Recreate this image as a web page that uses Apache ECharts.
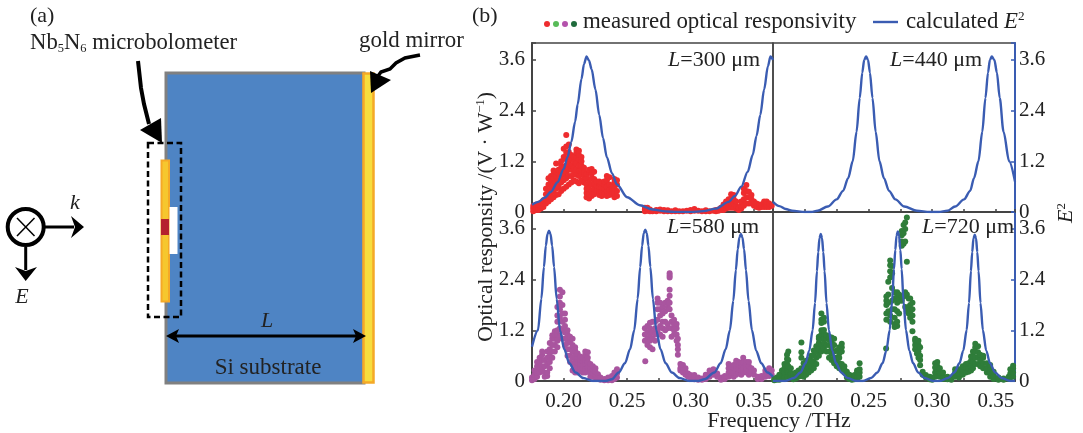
<!DOCTYPE html>
<html><head><meta charset="utf-8">
<script src="https://cdn.jsdelivr.net/npm/echarts@6/dist/echarts.min.js"></script>
<style>html,body{margin:0;padding:0;background:#fff}#c{width:1083px;height:433px}</style></head>
<body><div id="c"></div>
<script>
// Frequency tick labels and response tick labels
const xTickLabels = ['0.20','0.25','0.30','0.35'];
const yTickLabels = ['0.0','1.2','2.4','3.6'];
const panelLabels = ['300','440','580','720'];

// calculated E^2 curves [frequency, value]
const curve300 = [[.175,.17],[.18,.24],[.185,.34],[.19,.48],[.195,.7],[.2,1.02],[.203,1.3],[.206,1.66],[.209,2.14],[.211,2.55],[.214,3.15],[.216,3.5],[.218,3.68],[.22,3.58],[.222,3.38],[.225,2.9],[.228,2.3],[.231,1.75],[.234,1.3],[.238,.92],[.242,.65],[.25,.35],[.26,.16],[.27,.06],[.28,.015],[.29,0],[.3,0],[.31,.02],[.32,.08],[.33,.24],[.335,.38],[.34,.6],[.345,.95],[.349,1.35],[.352,1.8],[.355,2.3],[.358,2.9],[.361,3.45],[.363,3.68],[.365,3.6]];
const curve440 = [[.175,.24],[.18,.14],[.185,.07],[.19,.03],[.2,0],[.205,0],[.21,.03],[.218,.13],[.225,.3],[.23,.5],[.234,.8],[.2376,1.2],[.2406,1.9],[.2431,2.7],[.2451,3.3],[.2466,3.6],[.2481,3.68],[.2496,3.6],[.2511,3.3],[.2531,2.7],[.2556,1.9],[.2586,1.2],[.2621,.8],[.2661,.5],[.2711,.3],[.2781,.13],[.288,.03],[.298,0],[.305,0],[.312,.03],[.318,.13],[.325,.3],[.3298,.5],[.3328,.8],[.3363,1.2],[.3393,1.9],[.3418,2.7],[.3438,3.3],[.3453,3.6],[.3468,3.68],[.3488,3.6],[.3508,3.3],[.353,2.7],[.356,1.9],[.3604,1.2],[.365,.72]];
const curve580 = [[.175,.81],[.1797,1.2],[.1824,1.95],[.1844,2.7],[.1859,3.2],[.1872,3.48],[.1884,3.56],[.1896,3.48],[.1909,3.2],[.1924,2.7],[.1944,1.95],[.1971,1.2],[.2004,.75],[.2044,.42],[.2094,.2],[.2154,.07],[.2234,0],[.233,0],[.238,.04],[.2433,.2],[.2483,.42],[.2523,.75],[.2556,1.2],[.2583,1.95],[.2603,2.7],[.2618,3.2],[.2631,3.5],[.2643,3.58],[.2655,3.5],[.2668,3.2],[.2683,2.7],[.2703,1.95],[.273,1.2],[.2763,.75],[.2803,.42],[.2853,.2],[.2913,.07],[.299,0],[.306,0],[.311,.04],[.3187,.2],[.3237,.42],[.3277,.75],[.331,1.2],[.3337,1.9],[.3357,2.62],[.3372,3.12],[.3385,3.4],[.3397,3.48],[.3409,3.4],[.3422,3.12],[.3437,2.62],[.3457,1.9],[.3484,1.2],[.3517,.72],[.3557,.42],[.3607,.2],[.365,.1]];
const curve720 = [[.175,0],[.1845,0],[.1915,.07],[.1965,.2],[.2005,.42],[.2035,.72],[.2061,1.2],[.208,1.85],[.2095,2.6],[.2105,3.05],[.2115,3.38],[.2125,3.48],[.2135,3.38],[.2145,3.05],[.2155,2.6],[.217,1.85],[.2189,1.2],[.2215,.72],[.2245,.42],[.2285,.2],[.2335,.07],[.2405,0],[.2455,0],[.252,.07],[.257,.2],[.261,.42],[.264,.72],[.2666,1.2],[.2685,1.88],[.27,2.65],[.271,3.1],[.272,3.44],[.273,3.54],[.274,3.44],[.275,3.1],[.276,2.65],[.2775,1.88],[.2794,1.2],[.282,.72],[.285,.42],[.289,.2],[.294,.07],[.301,0],[.306,0],[.3124,.07],[.3174,.2],[.3214,.42],[.3244,.72],[.327,1.2],[.3289,1.85],[.3304,2.6],[.3314,3.05],[.3324,3.38],[.3334,3.46],[.3344,3.38],[.3354,3.05],[.3364,2.6],[.3379,1.85],[.3398,1.2],[.3424,.72],[.3454,.42],[.3494,.2],[.3544,.07],[.3614,0],[.365,0]];

// measured responsivity, each row: frequency, then the values read at that frequency
const measured300 = [[.176,.02,.08,.14],[.178,.05,.12,.17],[.18,.05,.1,.18],[.182,.08,.14,.22],[.184,.12,.2,.28],[.186,.2,.3,.42,.55],[.188,.25,.38,.5,.65,.8],[.19,.3,.45,.6,.72,.85],[.192,.35,.5,.65,.8,.9,.98],[.194,.4,.55,.7,.85,.95,1.15],[.196,.42,.6,.75,.9,1.0],[.198,.5,.7,.85,.98,1.1,1.2],[.2,.55,.75,.9,1.05,1.3,1.5],[.202,.6,.8,.95,1.1,1.25,1.4,1.55,1.82],[.204,.65,.85,1.0,1.15,1.3,1.42,1.6],[.206,.7,.85,1.0,1.1,1.25,1.35],[.208,.75,.9,1.05,1.2,1.3],[.21,.72,.88,1.0,1.15,1.28,1.4,1.48],[.212,.68,.85,.98,1.1,1.25,1.35,1.45],[.214,.75,.9,1.0,1.1,1.2,1.3],[.216,.7,.85,.95,1.05],[.218,.35,.45,.55,.65,.8,.9],[.22,.32,.42,.55,.7,.95,1.0],[.222,.38,.5,.65,.8,.9,1.02],[.224,.42,.55,.68,.78,.95],[.226,.5,.62,.72],[.228,.4,.5,.6,.68,.72],[.23,.38,.48,.58,.7],[.232,.42,.55,.65,.72],[.234,.38,.5,.6,.75,.85],[.236,.4,.52,.65,.82],[.238,.42,.55,.62],[.24,.35,.45,.55,.7,.78],[.242,.38,.5,.65,.75],
[.264,.02,.06,.1],[.266,.03,.08,.1],[.268,.02,.06],[.27,.02],[.273,.02,.05],[.276,.03,.06],[.279,.02,.05],[.282,.02,.04],[.285,.02],[.288,.02,.04],[.291,.02],[.294,.02],[.297,.03],[.3,.02,.05],[.303,.03,.07],[.306,.03],[.309,.02],[.312,.02,.04],[.315,.02],[.318,.03],[.32,.02,.05],[.322,.03,.06],[.324,.05,.1],[.326,.05,.12,.18],[.328,.08,.16,.25],[.33,.1,.2,.3],[.332,.1,.2,.32,.42],[.334,.1,.2,.3,.4],[.336,.08,.15,.25],[.338,.05,.1],[.34,.08,.15,.25],[.342,.15,.3,.45,.55],[.344,.2,.35,.5,.64],[.346,.2,.35,.48],[.348,.2,.3,.4],[.35,.15,.25],[.352,.12,.2],[.354,.1,.18],[.356,.12,.18],[.358,.12,.2,.25],[.36,.12,.18,.25],[.362,.12,.2],[.364,.15]];
const measured580 = [[.175,.02,.08],[.177,.05,.15,.25],[.179,.1,.2,.35,.45],[.181,.2,.3,.45,.55],[.183,.25,.35,.5,.62,.7],[.185,.1,.2,.35,.5],[.187,.12,.2,.4,.55,.7],[.189,.3,.45,.6,.75,.9],[.191,.55,.7,.85,1.0,1.08],[.193,.7,.85,1.0,1.1,1.18],[.195,.8,.95,1.1,1.2,1.4,1.55,1.75],[.197,1.05,1.25,1.5,1.7,1.85,2.0,2.16],[.199,1.0,1.2,1.4,1.6,1.8,2.1],[.201,.85,1.0,1.15,1.3,1.45,1.6],[.203,.6,.75,.9,1.0,1.1,1.2],[.205,.45,.6,.75,.95,1.05],[.207,.25,.4,.55,.7,.85,1.0],[.209,.2,.35,.45,.6,.72,.8],[.211,.2,.3,.42,.5,.58,.65],[.213,.25,.32,.4,.5,.58],[.215,.2,.3,.38,.48,.55],[.217,.2,.28,.4,.5,.62,.7],[.219,.22,.32,.45,.55,.68],[.221,.1,.2,.3,.4],[.223,.1,.18,.28,.35],[.225,.08,.15,.22,.3],[.227,.05,.1,.16],[.229,.03,.08],[.232,.02,.05],[.235,.02,.06,.08],[.238,.02,.06,.12],[.24,.05,.15,.2],[.242,.08,.18,.28],
[.2643,.47],[.264,.95,1.1,1.25],[.266,.85,1.0,1.15,1.3],[.268,.8,.95,1.1,1.25,1.38],[.27,.75,1.0,1.15,1.4],[.272,.95,1.1,1.25,1.4],[.274,1.2,1.45,1.7,1.85,1.95],[.276,1.1,1.3,1.55,1.7,1.85],[.278,1.05,1.25,1.4,1.6,1.75],[.28,1.2,1.4,1.65,1.85],[.282,1.25,1.35,1.75,1.9],[.2835,1.7,1.85,2.02,2.16,2.45,2.5,2.55],[.285,1.05,1.25,1.4,1.55],[.287,1.1,1.2,1.35,1.45],[.289,.95,1.1,1.25,1.35],[.29,.62,.75,.85,1.0],[.292,.25,.3,.4],[.294,.2,.3,.38],[.296,.15,.22,.3],[.298,.1,.18],[.3,.08,.14],[.303,.04,.1,.14],[.306,.03,.08],[.309,.03,.06],[.312,.05,.1,.15],[.315,.1,.18,.25],[.318,.15,.22,.28],[.321,.1,.18],[.324,.03,.08],[.327,.05,.12],[.33,.1,.2,.3,.4],[.332,.15,.25,.35],[.334,.1,.2,.3,.38],[.336,.15,.3,.42,.48],[.338,.2,.28,.38,.45],[.34,.15,.25,.35,.42],[.3415,.2,.3,.45,.55],[.344,.2,.3,.38,.45],[.346,.15,.25,.35,.45],[.348,.2,.3],[.35,.15,.25],[.353,.05,.1],[.356,.05,.12],[.359,.1,.18,.25],[.362,.12,.22,.3],[.364,.15,.25]];
const measured720 = [[.176,.02,.05],[.178,.03,.08],[.18,.03,.1,.15],[.182,.05,.15,.25],[.184,.08,.2,.3,.4],[.186,.1,.25,.4,.52,.62],[.187,.2,.35,.5,.7],[.189,.08,.18,.3],[.191,.04,.1,.18],[.193,.06,.14,.2],[.195,.1,.18,.25],[.1973,.12,.22,.3,.55,.68,.91],[.199,.1,.2,.3,.42],[.201,.15,.25,.35,.48],[.203,.2,.3,.4,.5],[.205,.25,.35,.48,.6],[.207,.3,.45,.6,.72],[.209,.4,.55,.7,.82],[.211,.6,.75,.9,1.0,1.05],[.213,.7,.85,1.0,1.1,1.2,1.37,1.45,1.6],[.215,.75,.9,1.02,1.12,1.21,1.4,1.5],[.217,.7,.85,1.0,1.08],[.219,.55,.7,.85,.98,1.05],[.221,.5,.65,.8,.92,1.03],[.223,.42,.55,.7,.85,1.0],[.225,.35,.45,.55,.72],[.227,.3,.42,.55,.65,.8],[.229,.28,.4,.7,.8,.88],[.231,.2,.28,.35],[.233,.08,.15,.22],[.235,.05,.1,.15],[.237,.03,.08],[.239,.04,.1,.14],[.241,.05,.12,.2,.25],[.243,.1,.2,.28,.42],
[.2638,.77],[.264,1.45,1.6,1.8,1.9,2.0],[.2655,1.65,1.85,2.05,2.35],[.267,1.4,1.55,2.45,2.6,2.74,2.85],[.2685,1.7,1.9,2.2,2.55,2.72],[.2705,1.28,1.35,1.5,1.7,1.95,2.1],[.2725,1.3,1.4,1.65,1.85,2.0,2.1],[.274,1.6,1.9,2.05],[.2761,1.9,2.0,3.2,3.3,3.45,3.55],[.2775,2.0,3.25,3.5,3.69],[.2788,1.75,2.1,3.3,3.6,3.75],[.2801,1.65,2.05,2.82,3.87],[.2815,1.6,1.75,1.95],[.2827,1.5,1.65,1.8,1.95],[.2845,1.18,1.4,1.55,1.7,1.85],[.2866,.75,.85,.95,1.0],[.288,.65,.8,.9],[.2892,.55,.7,.85,.95],[.2905,.37,.5,.6,.8],[.2925,.15,.22],[.295,.08,.14],[.298,.04,.1],[.3,.03,.08],[.3023,.1,.2,.32,.42],[.304,.12,.22,.35,.45],[.306,.1,.2,.3],[.3085,.05,.12,.2],[.312,.04,.1],[.315,.03,.08],[.318,.1,.2,.28],[.321,.08,.18,.28],[.324,.15,.25,.35],[.3265,.2,.32,.4],[.3285,.22,.3,.42],[.3305,.25,.35,.48,.58],[.332,.3,.45,.6,.7],[.3338,.4,.55,.7,.8,.88],[.336,.4,.55,.68,.82],[.3377,.35,.5,.62],[.34,.3,.42,.55,.6],[.3429,.2,.3,.42],[.3455,.1,.2,.3,.38],[.3482,.05,.12,.22],[.352,.03,.08],[.356,.03,.06],[.36,.05,.1],[.3613,.08,.18,.28],[.3635,.1,.2,.3,.36]];

const FONT = '"Liberation Serif", serif', INK = '#222', BLUE = '#3a5cb2', FRAME = '#444';
const RED = '#ee2c2e', PURPLE = '#a9559f', GREEN = '#2f7d3a';
const rows = r => r.flatMap(([x, ...ys]) => ys.map(y => [x, y]));

const panels = [
  {curve: curve300, pts: measured300, color: RED,    left: 532, top: 43,  xl: false, side: 'left'},
  {curve: curve440, pts: [],          color: RED,    left: 773, top: 43,  xl: false, side: 'right'},
  {curve: curve580, pts: measured580, color: PURPLE, left: 532, top: 212, xl: true,  side: 'left'},
  {curve: curve720, pts: measured720, color: GREEN,  left: 773, top: 212, xl: true,  side: 'right'}
];
const grid = [], xAxis = [], yAxis = [], series = [];
panels.forEach((p, i) => {
  grid.push({left: p.left, top: p.top, width: p.side === 'left' ? 241 : 242, height: 169, show: true,
    borderColor: FRAME, borderWidth: 1.5, backgroundColor: 'transparent'});
  xAxis.push({gridIndex: i, type: 'value', min: .175, max: .365, interval: .025,
    splitLine: {show: false}, axisLine: {lineStyle: {color: FRAME, width: 2}},
    axisTick: {inside: true, length: 3, lineStyle: {color: FRAME, width: 1.5}},
    axisLabel: {show: p.xl, margin: 10, color: INK, fontFamily: FONT, fontSize: 21,
      formatter: v => xTickLabels.includes(v.toFixed(2)) ? v.toFixed(2) : ''}});
  yAxis.push({gridIndex: i, type: 'value', min: 0, max: 4, interval: 1.2, position: p.side,
    splitLine: {show: false},
    axisLine: {show: true, lineStyle: {color: p.side === 'right' ? BLUE : FRAME, width: 2}},
    axisTick: {inside: true, length: 4, lineStyle: {color: p.side === 'right' ? BLUE : FRAME, width: 1.5}},
    axisLabel: {margin: p.side === 'right' ? 4 : 7, color: INK, fontFamily: FONT, fontSize: 21, padding: [3, 0, 0, 0],
      formatter: v => yTickLabels.includes(v.toFixed(1)) ? (v === 0 ? '0' : v.toFixed(1)) : ''}});
  series.push({type: 'scatter', xAxisIndex: i, yAxisIndex: i, data: rows(p.pts), symbolSize: 6,
    itemStyle: {color: p.color, opacity: 1}, z: 2, silent: true, animation: false});
  series.push({type: 'line', xAxisIndex: i, yAxisIndex: i, data: p.curve, smooth: .3, smoothMonotone: 'x', showSymbol: false,
    lineStyle: {color: BLUE, width: 2.4}, z: 3, silent: true, animation: false});
});

const txt = (x, y, text, size, extra = {}) => ({type: 'text', x, y, z: 10, rotation: extra.rotation || 0,
  style: {text, fill: INK, font: `${extra.style || ''} ${size}px ${FONT}`, align: extra.align || 'left',
    verticalAlign: 'middle', rich: extra.rich}});
const K = {stroke: '#000', fill: 'none'};
const poly = (pts, fill = '#000') => ({type: 'polygon', z: 6, shape: {points: pts}, style: {fill}});
const line = (pts, w) => ({type: 'polyline', z: 6, shape: {points: pts, smooth: 0}, style: {stroke: '#000', lineWidth: w, fill: null}});
const rect = (x, y, w, h, style, z = 3) => ({type: 'rect', z, shape: {x, y, width: w, height: h}, style});
const richBase = s => ({a: {fontFamily: FONT, fontSize: s, fill: INK}, i: {fontFamily: FONT, fontSize: s, fontStyle: 'italic', fill: INK},
  sub: {fontFamily: FONT, fontSize: s * .55, fill: INK, verticalAlign: 'bottom'}, sup: {fontFamily: FONT, fontSize: s * .58, fill: INK, verticalAlign: 'top'}});

const graphic = [
  // (a) device schematic
  rect(166, 73, 198, 310, {fill: '#4e84c4', stroke: '#808080', lineWidth: 3}),
  rect(363.5, 73.5, 10, 309, {fill: '#f6de3e', stroke: '#f5a927', lineWidth: 2.5}, 4),
  rect(161.5, 160.5, 7.5, 141, {fill: '#f6c72e', stroke: '#f5a927', lineWidth: 2}, 5),
  rect(161, 219, 8, 16, {fill: '#b5222e'}, 6),
  rect(169.5, 207, 8, 47, {fill: '#fff'}, 5),
  rect(148, 143, 33, 174, {...K, lineWidth: 2.5, lineDash: [6, 3.5]}, 7),
  line([[138, 61], [141, 88], [144, 104], [149, 124]], 4),
  poly([[140, 130], [161, 118], [162, 143]]),
  line([[420, 55], [405, 58], [396, 63], [390, 69], [381, 72], [378, 76]], 3.5),
  poly([[371, 93], [370, 71], [391, 80]]),
  {type: 'circle', z: 6, shape: {cx: 25.7, cy: 227, r: 18}, style: {...K, lineWidth: 4, fill: '#fff'}},
  line([[17, 218], [34.5, 236]], 1.5), line([[34.5, 218], [17, 236]], 1.5),
  line([[45, 227], [74, 227]], 3), poly([[84, 227], [71, 216], [75, 227], [71, 238]]),
  line([[25.7, 247], [25.7, 270]], 3), poly([[25.7, 281], [15, 267], [25.7, 271], [37, 267]]),
  line([[172, 336], [360, 336]], 3), poly([[166, 336], [179, 329], [176, 336], [179, 343]]), poly([[366, 336], [353, 329], [356, 336], [353, 343]]),
  txt(30, 16, '(a)', 22),
  txt(30, 43, '{a|Nb}{sub|5}{a|N}{sub|6}{a| microbolometer}', 22.7, {rich: richBase(22.7)}),
  txt(359, 41, 'gold mirror', 22.9),
  txt(75, 203, 'k', 22, {style: 'italic', align: 'center'}),
  txt(22, 297, 'E', 22, {style: 'italic', align: 'center'}),
  txt(267, 321, 'L', 22, {style: 'italic', align: 'center'}),
  txt(268, 368, 'Si substrate', 23, {align: 'center'}),
  // (b) heading and legend
  txt(472, 16, '(b)', 22),
  ...[[547, RED], [556, '#58bb58'], [565, '#b452ac'], [574, '#1f6b3c']].map(([cx, fill]) =>
    ({type: 'circle', z: 6, shape: {cx, cy: 24, r: 3}, style: {fill}})),
  txt(583, 22, 'measured optical responsivity', 22.9),
  {type: 'line', z: 6, shape: {x1: 873, y1: 22, x2: 898, y2: 22}, style: {stroke: BLUE, lineWidth: 2.4}},
  txt(906, 22, '{a|calculated }{i|E}{sup|2}', 22.8, {rich: richBase(22.8)}),
  // axis titles
  txt(486, 217, '{a|Optical responsity /(V · W}{sup|−1}{a|)}', 21.5, {align: 'center', rotation: Math.PI / 2, rich: richBase(21.5)}),
  txt(1066, 213, '{i|E}{sup|2}', 22, {align: 'center', rotation: Math.PI / 2, rich: richBase(22)}),
  txt(779, 421, 'Frequency /THz', 22, {align: 'center'}),
  // cavity length inside each panel
  ...[[668, 60], [890, 60], [667, 227], [922, 227]].map(([x, y], i) =>
    txt(x, y, `{i|L}{a|=${panelLabels[i]} μm}`, 22, {rich: richBase(22)}))
];

const chart = echarts.init(document.getElementById('c'), null, {renderer: 'canvas'});
chart.setOption({animation: false, backgroundColor: '#fff', grid, xAxis, yAxis, series, graphic});
</script></body></html>
